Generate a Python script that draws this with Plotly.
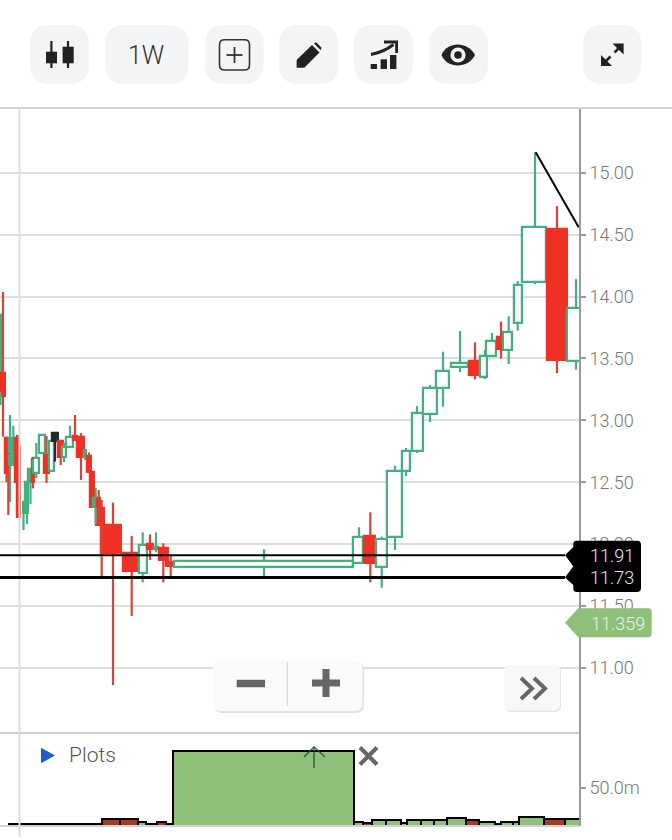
import plotly.graph_objects as go

# ---------- chart data ----------
candle_start = [-4,1,4.7,6,9.3,12,15,17,22.7,25,28.3,31.7,33.3,39.3,44,49,52,58.3,62.3,66,73,76.7,83.5,86.7,90.3,93,97,96,101,123.3,138.7,146.7,154,159,166,174.3,353.3,364,376,387.3,402,411.7,422.7,435.7,450.7,469,480.3,486,496.7,502.7,514,521.7,547.3,566.7]
candle_end = [2,5,8.7,10,15,14.5,19.3,20,25.5,28,31.7,34,38.7,45,48.7,54.3,57.7,63.3,66,72.7,77,84,86,91,93.7,97,100,104,121.3,138.3,147,152.7,158,168,173.3,353,362.7,375,387.3,402.3,410,423,436.7,449.3,468.3,480,486.7,496,502.3,512.3,522,546.3,567.3,590]
wick_time = [0.5,3,6.5,8.3,10,13.3,17,18.5,23.5,27,30.5,33,36.3,42,46.5,52,55,60.7,64,70,75,81,85,89,92,95.7,98.7,101.7,113,131.7,142.7,150,156,163.3,170.7,264,359,370.3,381.7,395,406,417,430,443,460,475,485,492,501,508.7,517.7,535,557,576]
open_price = [13.229,13.384,12.857,12.72,12.639,12.72,12.857,12.787,12.251,12.251,12.502,12.688,12.574,12.736,12.72,12.59,12.897,12.835,12.704,12.785,12.876,12.868,12.70,12.71,12.585,12.30,12.372,12.292,12.154,11.926,11.769,12.001,11.96,11.971,11.853,11.818,11.845,12.065,11.818,12.06,12.59,12.752,13.053,13.26,13.428,13.48,13.352,13.52,13.675,13.565,13.79,14.12,14.548,13.477]
close_price = [13.851,13.196,12.577,12.58,12.857,12.85,12.504,12.219,12.343,12.502,12.607,12.504,12.696,12.881,12.574,12.833,12.833,12.706,12.785,12.868,12.841,12.706,12.76,12.585,12.302,12.372,12.292,12.154,11.93,11.78,11.995,11.96,11.976,11.872,11.825,11.861,12.06,11.845,12.041,12.59,12.752,13.055,13.26,13.40,13.46,13.364,13.52,13.64,13.576,13.716,14.09,14.56,13.485,13.91]
high_price = [13.851,14.036,12.868,12.736,13.043,12.956,12.881,12.881,12.343,12.502,12.607,12.704,12.817,12.89,12.873,12.833,12.897,12.835,12.817,12.956,13.043,12.897,12.768,12.74,12.585,12.453,12.437,12.356,12.335,12.065,12.095,12.079,12.095,12.006,11.912,11.958,12.136,12.257,12.06,12.633,12.776,13.115,13.285,13.554,13.72,13.63,13.568,13.705,13.797,13.84,14.125,15.165,14.73,14.14]
low_price = [13.124,12.868,12.50,12.235,12.34,12.70,12.50,12.211,12.114,12.162,12.324,12.45,12.534,12.736,12.494,12.582,12.666,12.639,12.663,12.785,12.841,12.518,12.68,12.585,12.295,12.162,12.25,11.737,10.862,11.419,11.691,11.872,11.934,11.691,11.737,11.742,11.845,11.691,11.648,11.953,12.55,12.736,12.986,13.11,13.39,13.33,13.333,13.52,13.50,13.455,13.724,14.10,13.38,13.41]
black_candle = 16
solid_green_candles = [0,4,5,8,9,10,22,25,32]

volume_edges = [9.4,101.6,120,138,146,157,166,172.7,354,363,372,386,400.7,407,421,434,446.6,466,479,495,501,513,519.4,544,565,579.5]
volume_values = [2.2,9.6,9.6,5.3,2.2,5.3,2.2,98.7,5.3,4.3,7.5,7.5,4.3,7.5,7.5,7.5,10.1,7.5,5.3,2.2,5.3,5.3,12.2,9.6,9.6]
volume_down = [1,2,5,9,17,23]

price_ticks = [11.0,11.5,12.0,12.5,13.0,13.5,14.0,14.5,15.0]
price_labels = ["11.00","11.50","12.00","12.50","13.00","13.50","14.00","14.50","15.00"]
volume_ticks = [50]
volume_labels = ["50.0m"]
level_prices = [11.91,11.73]
level_labels = ["11.91","11.73"]
last_price_label = "11.359"
trend_time = [535.7,578.7]
trend_price = [15.165,14.56]

# ---------- styles ----------
GREEN, RED, VGREEN, VRED = "#43b080", "#ee3124", "#8fc07a", "#a83a22"
FONT = "Roboto"
W, H = 672, 840
PLOT_R, TOP, SPLIT, BASE = 579, 108, 733, 826
BTN = "#f2f4f5"
INK = "#222222"

# ---------- candles ----------
n = len(open_price)
centres = [(candle_start[i]+candle_end[i])/2 for i in range(n)]
widths = [candle_end[i]-candle_start[i] for i in range(n)]
bases = [min(open_price[i],close_price[i]) for i in range(n)]
heights = [abs(open_price[i]-close_price[i]) for i in range(n)]
is_up = [close_price[i] >= open_price[i] for i in range(n)]
fills = ["#1c2b2b" if i==black_candle else (GREEN if i in solid_green_candles else ("#ffffff" if is_up[i] else RED)) for i in range(n)]
edges = ["#1c2b2b" if i==black_candle else (GREEN if is_up[i] else RED) for i in range(n)]

def wicks(idx):
    xs, ys = [], []
    for i in idx:
        top, bot = bases[i]+heights[i], bases[i]
        xs += [wick_time[i], wick_time[i], None, wick_time[i], wick_time[i], None]
        ys += [top, high_price[i], None, bot, low_price[i], None]
    return xs, ys

fig = go.Figure()
groups = [([i for i in range(n) if is_up[i]], GREEN),
          ([i for i in range(n) if not is_up[i] and i!=black_candle], "#dc4136"),
          ([black_candle], "#1c2b2b")]
for idx, col in groups:
    xs, ys = wicks(idx)
    fig.add_trace(go.Scatter(x=xs, y=ys, mode="lines", line=dict(color=col, width=2.2),
                             hoverinfo="skip", showlegend=False, connectgaps=False))
fig.add_trace(go.Bar(x=centres, y=heights, base=bases, width=widths,
                     marker=dict(color=fills, line=dict(color=edges, width=2.2)),
                     showlegend=False, hoverinfo="skip"))
fig.add_trace(go.Scatter(x=trend_time, y=trend_price, mode="lines",
                         line=dict(color="#000000", width=2), showlegend=False, hoverinfo="skip"))

v_x = [(volume_edges[i]+volume_edges[i+1])/2 for i in range(len(volume_values))]
v_w = [volume_edges[i+1]-volume_edges[i] for i in range(len(volume_values))]
v_c = [VRED if i in volume_down else VGREEN for i in range(len(volume_values))]
fig.add_trace(go.Bar(x=v_x, y=volume_values, width=v_w, yaxis="y2",
                     marker=dict(color=v_c, line=dict(color="#000000", width=2)),
                     showlegend=False, hoverinfo="skip"))

# ---------- page furniture, in page pixels ----------
shapes, notes = [], []
def round_rect(x0,y0,x1,y1,r):
    return (f"M{x0+r},{y0} L{x1-r},{y0} Q{x1},{y0} {x1},{y0+r} L{x1},{y1-r} Q{x1},{y1} {x1-r},{y1} "
            f"L{x0+r},{y1} Q{x0},{y1} {x0},{y1-r} L{x0},{y0+r} Q{x0},{y0} {x0+r},{y0} Z")
def path(d, fill=None, line=None, width=0, layer="above"):
    s = dict(type="path", path=d, xref="x3", yref="y3", layer=layer,
             line=dict(color=line or "rgba(0,0,0,0)", width=width))
    if fill: s["fillcolor"] = fill
    shapes.append(s)
def seg(x0,y0,x1,y1,color,width,layer="above"):
    shapes.append(dict(type="line", x0=x0,y0=y0,x1=x1,y1=y1,xref="x3",yref="y3",layer=layer,
                       line=dict(color=color,width=width)))
def rect(x0,y0,x1,y1,color):
    shapes.append(dict(type="rect",x0=x0,y0=y0,x1=x1,y1=y1,xref="x3",yref="y3",fillcolor=color,
                       line=dict(width=0),layer="above"))
def circle(cx,cy,r,color):
    shapes.append(dict(type="circle",x0=cx-r,y0=cy-r,x1=cx+r,y1=cy+r,xref="x3",yref="y3",
                       fillcolor=color,line=dict(width=0),layer="above"))
def text(x,y,s,size,color,anchor="center"):
    notes.append(dict(x=x,y=y,xref="x3",yref="y3",text=s,showarrow=False,xanchor=anchor,yanchor="middle",
                      font=dict(family=FONT,size=size,color=color,weight=300)))

# frame lines
seg(0,TOP,W,TOP,"#d2d2d2",2,"below")
seg(0,SPLIT,PLOT_R,SPLIT,"#cfcfcf",2,"below")
seg(0,BASE,PLOT_R,BASE,"#d2d2d2",2,"below")
seg(19.5,TOP,19.5,837,"#dedede",2,"below")

# toolbar buttons
for x0,x1 in [(30,89),(105,188.6),(205,263.6),(279,338.6),(354,413),(429,488),(583,641.6)]:
    path(round_rect(x0,25,x1,84,20), fill=BTN)
# candles icon
seg(51.4,41,51.4,68,INK,2.2); rect(46,51.7,57,63.3,INK)
seg(68,41,68,68,INK,2.2); rect(62.6,46.7,73.7,63.3,INK)
text(146,55,"1W",25,"#333333")
# plus box
path(round_rect(219.5,39.7,249.5,70,5), line="#333333", width=1.6)
seg(226.5,55,242.5,55,"#333333",1.8); seg(234.5,47,234.5,63,"#333333",1.8)
# pencil
path("M296.6,67.7 L296.6,60 L312,45 L319.5,52.5 L304.3,67.7 Z", fill=INK)
path("M314,43.5 L316,42.3 L321.4,47.5 L320.8,50.2 Z", fill=INK)
# growth icon
rect(370.7,64,377,69,INK); rect(380.6,59.3,387,69,INK); rect(390,55,396.4,69,INK)
path("M371,54.5 Q384,52 393.5,44.5", line=INK, width=3)
path("M384,42 L396.6,42 L396.6,53", line=INK, width=2.8)
# eye
path("M441.5,55 C447,41 468,41 475,55 C468,69 447,69 441.5,55 Z", fill=INK)
circle(458,55,7.6,"#f2f4f5"); circle(458,55,3.8,INK)
# expand
path("M612.5,43.5 L623.6,43.5 L623.6,54.5 Z", fill=INK)
path("M601,55 L601,66 L612,66 Z", fill=INK)
seg(605.5,61.5,610.5,56.5,INK,2.5); seg(614.5,52.5,619.5,47.5,INK,2.5)

# level tags
path("M565,555.2 L573.3,547 L573.3,544 Q573.3,540.7 577,540.7 L637,540.7 Q641,540.7 641,544.5 L641,588 Q641,592 637,592 "
     "L577,592 Q573.3,592 573.3,589 L573.3,585 L565,577.5 L573.3,566.3 Z", fill="#000000")
path("M565,622.7 L578.3,608.3 L648,608.3 Q651.7,608.3 651.7,612 L651.7,633.5 Q651.7,637.3 648,637.3 L578.3,637.3 Z", fill=VGREEN)
text(612,555,level_labels[0],18,"#e6e6e6")
text(612,577,level_labels[1],18,"#e6e6e6")
text(618,623,last_price_label,18,"#eaf4e4")

# zoom controls
path(round_rect(214,662,364,713,8), fill="#e2e2e2")
path(round_rect(213,660.7,362.5,711,8), fill="#fafafa")
seg(287.3,662,287.3,706,"#dddddd",1.5)
seg(236.7,683.5,265,683.5,"#666666",7.5)
seg(312,683,340,683,"#666666",7); seg(326,669,326,697,"#666666",7)
# scroll-to-end button
path(round_rect(505,666,561,712,6), fill="#e6e6e6")
path(round_rect(504,665,560,710.5,6), fill="#f8f8f8")
path("M521,678 L532,688.5 L521,699", line="#666666", width=4)
path("M534,678 L545,688.5 L534,699", line="#666666", width=4)

# plots pane controls
path("M41,747.7 L55,755.5 L41,763.3 Z", fill="#1a5fd0")
text(67,755,"Plots",21,"#555555","left")
seg(314,747,314,768,"rgba(45,75,45,0.85)",1.5)
path("M304,757 L314,747 L325,757", line="rgba(45,75,45,0.85)", width=1.5)
seg(360,747.5,377,764.5,"#666666",4); seg(377,747.5,360,764.5,"#666666",4)

# support levels are drawn on the price scale
for p in level_prices:
    shapes.append(dict(type="line", xref="x", yref="y", x0=0, x1=565, y0=p, y1=p, layer="above",
                       line=dict(color="#000000", width=2 if p==level_prices[0] else 3)))

px_per_unit = 123.8
axis_style = dict(showline=True, linecolor="#9a9a9a", linewidth=2, ticks="outside", ticklen=5,
                  tickcolor="#9a9a9a", tickwidth=1.5, zeroline=False,
                  tickfont=dict(family=FONT, size=18, color="#777777", weight=300))
fig.update_layout(
    width=W, height=H, margin=dict(l=0,r=0,t=0,b=0), autosize=False,
    paper_bgcolor="#ffffff", plot_bgcolor="rgba(0,0,0,0)", barmode="overlay", bargap=0,
    xaxis=dict(domain=[0,PLOT_R/W], range=[0,PLOT_R], visible=False, fixedrange=True),
    yaxis=dict(domain=[1-SPLIT/H,1-TOP/H], range=[15-(SPLIT-172.7)/px_per_unit, 15+(172.7-TOP)/px_per_unit],
               side="right", anchor="x", tickvals=price_ticks, ticktext=price_labels,
               showgrid=True, gridcolor="#dddddd", gridwidth=2, **axis_style),
    yaxis2=dict(domain=[1-BASE/H,1-SPLIT/H], range=[0,(BASE-SPLIT)*50/38], side="right", anchor="x",
                tickvals=volume_ticks, ticktext=volume_labels, showgrid=False, **axis_style),
    xaxis3=dict(domain=[0,1], range=[0,W], visible=False, anchor="y3", fixedrange=True),
    yaxis3=dict(domain=[0,1], range=[H,0], visible=False, anchor="x3", fixedrange=True),
    shapes=shapes, annotations=notes,
)
fig.write_html("out.html", config=dict(displayModeBar=False),
               post_script="document.body.style.margin='0';document.documentElement.style.overflow='hidden';")
